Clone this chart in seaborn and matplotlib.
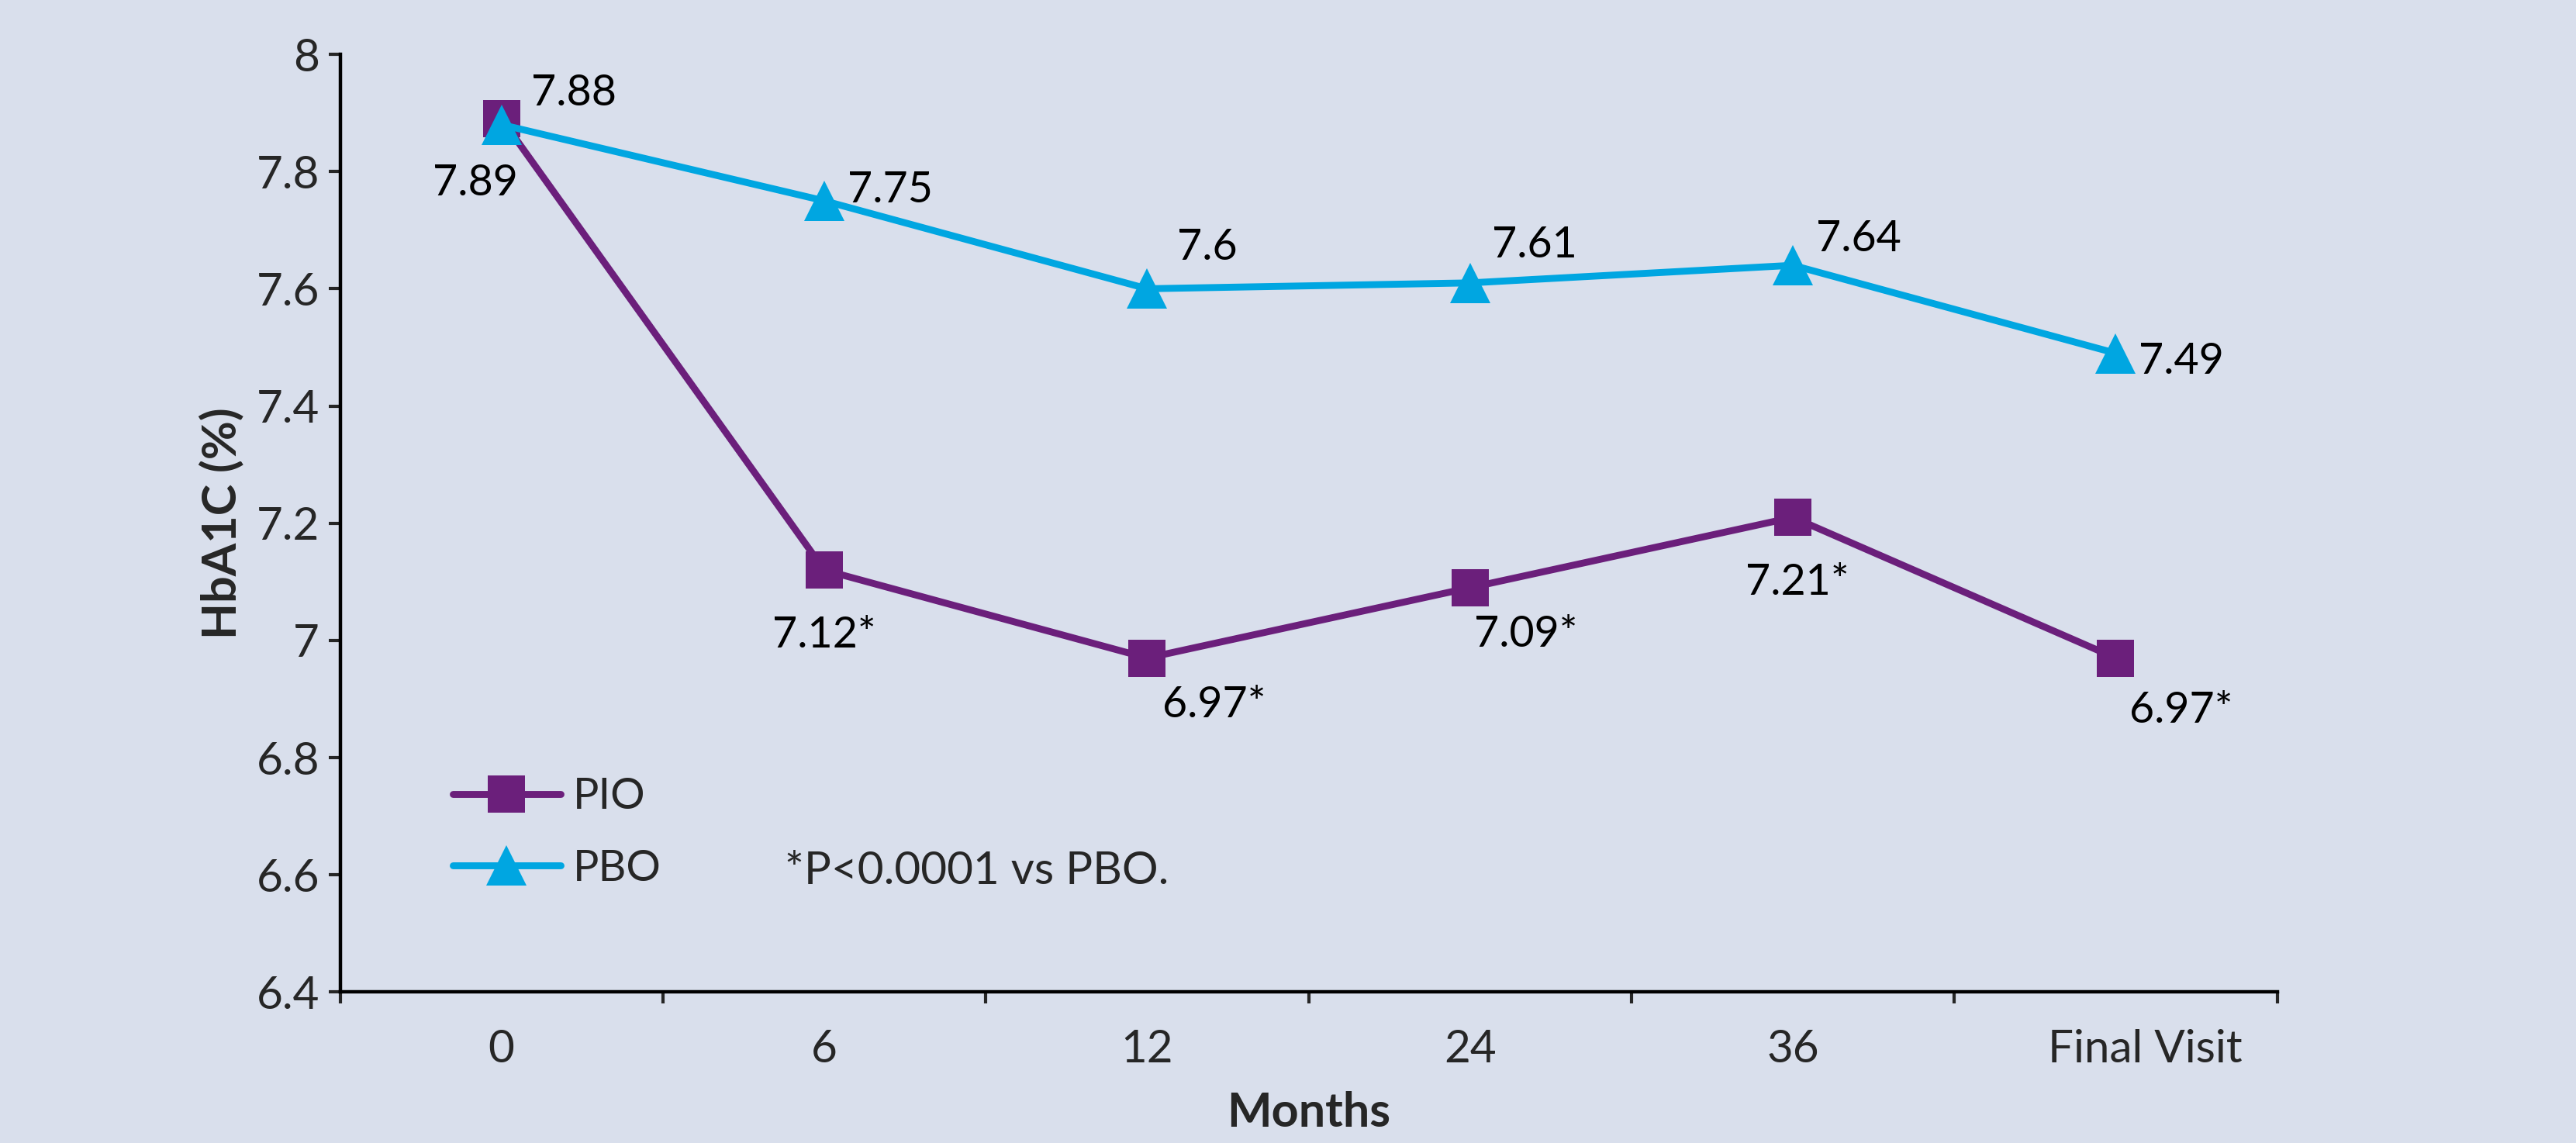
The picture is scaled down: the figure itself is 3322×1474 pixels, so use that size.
import numpy as np
import pandas as pd
import matplotlib
matplotlib.use("Agg")
import matplotlib.pyplot as plt
from matplotlib.lines import Line2D
from matplotlib.transforms import ScaledTranslation
import seaborn as sns

# ---- data -------------------------------------------------------------
visits = ["0", "6", "12", "24", "36", "Final Visit"]
pio = [7.89, 7.12, 6.97, 7.09, 7.21, 6.97]
pbo = [7.88, 7.75, 7.60, 7.61, 7.64, 7.49]
pio_labels = ["7.89", "7.12*", "6.97*", "7.09*", "7.21*", "6.97*"]
pbo_labels = ["7.88", "7.75", "7.6", "7.61", "7.64", "7.49"]
y_ticks = [6.4, 6.6, 6.8, 7.0, 7.2, 7.4, 7.6, 7.8, 8.0]
y_ticklabels = ["6.4", "6.6", "6.8", "7", "7.2", "7.4", "7.6", "7.8", "8"]
footnote = "*P<0.0001 vs PBO."

# label offsets (points) relative to each marker
pio_offsets = [(-12, -30), (0, -30.5), (31, -22), (26, -22), (2, -30.5), (30.5, -24.5)]
pbo_offsets = [(33.5, 14.5), (30.5, 5), (28, 19), (30, 17.5), (30.5, 12), (30.5, -4)]

PURPLE = "#6B1F7B"
BLUE = "#00A6E1"
BG = "#D9DFEC"

# ---- style ------------------------------------------------------------
sns.set_theme(style="ticks")
plt.rcParams["font.family"] = ["Lato", "DejaVu Sans"]
plt.rcParams["axes.facecolor"] = BG
plt.rcParams["figure.facecolor"] = BG

pos = np.arange(len(visits)) + 0.5
df = pd.DataFrame({
    "pos": np.concatenate([pos, pos]),
    "value": pio + pbo,
    "group": ["PIO"] * len(pio) + ["PBO"] * len(pbo),
})

fig = plt.figure(figsize=(16.61, 7.37), dpi=200)
ax = fig.add_axes([0.132, 0.132, 0.752, 0.8205])

sns.lineplot(
    data=df, x="pos", y="value", hue="group", style="group",
    hue_order=["PIO", "PBO"], style_order=["PIO", "PBO"],
    palette={"PIO": PURPLE, "PBO": BLUE},
    markers={"PIO": "s", "PBO": "^"}, dashes=False,
    linewidth=3.2, markersize=17, markeredgewidth=0,
    legend=False, ax=ax,
)
for ln in ax.lines:
    if ln.get_marker() == "^":
        ln.set_markersize(19)

# value labels
for x, y, t, off in zip(pos, pio, pio_labels, pio_offsets):
    ax.annotate(t, (x, y), xytext=off, textcoords="offset points",
                ha="center", va="center", fontsize=20, color="black")
for x, y, t, off in zip(pos, pbo, pbo_labels, pbo_offsets):
    ax.annotate(t, (x, y), xytext=off, textcoords="offset points",
                ha="center", va="center", fontsize=20, color="black")

# axes
ax.set_xlim(0, len(visits))
ax.set_ylim(6.4, 8.0)
ax.set_yticks(y_ticks)
ax.set_yticklabels(y_ticklabels, fontsize=21)
ax.set_xticks(pos)
ax.set_xticklabels(visits, fontsize=21)
ax.set_xticks(np.arange(len(visits) + 1), minor=True)
ax.tick_params(axis="x", which="major", length=0, pad=17)
ax.tick_params(axis="x", which="minor", length=5.5, width=1.5, direction="out")
ax.tick_params(axis="y", length=5.5, width=1.5, pad=4, direction="out")
# the last category label sits a little to the right of its slot
last = ax.get_xticklabels()[-1]
last.set_transform(last.get_transform() + ScaledTranslation(13.5 / 72, 0, fig.dpi_scale_trans))
for s in ["top", "right"]:
    ax.spines[s].set_visible(False)
for s in ["left", "bottom"]:
    ax.spines[s].set_linewidth(1.6)
    ax.spines[s].set_color("black")
ax.set_xlabel("Months", fontsize=22, fontweight="bold", labelpad=10)
ax.set_ylabel("HbA1C (%)", fontsize=22, fontweight="bold", labelpad=6)

# legend and footnote
handles = [
    Line2D([0], [0], color=PURPLE, lw=3.2, marker="s", markersize=17, markeredgewidth=0),
    Line2D([0], [0], color=BLUE, lw=3.2, marker="^", markersize=19, markeredgewidth=0),
]
ax.legend(handles, ["PIO", "PBO"], loc="center left",
          bbox_to_anchor=(0.047, 0.17), frameon=False, fontsize=20,
          handlelength=2.5, handletextpad=0.3, labelspacing=0.75, borderpad=0)
ax.text(0.2297, 0.129, footnote, transform=ax.transAxes, fontsize=21,
        ha="left", va="center")

fig.savefig("out.png", dpi=200, facecolor=BG)
